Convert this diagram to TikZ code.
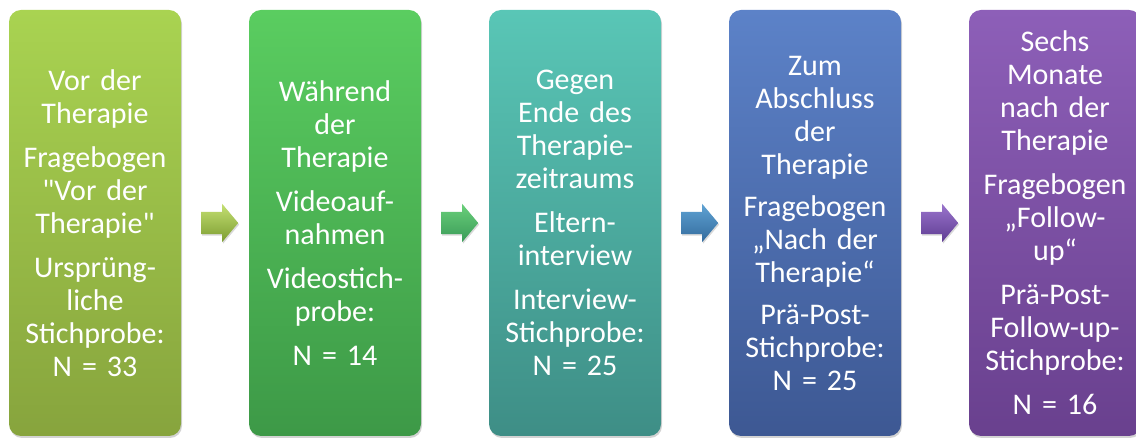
\documentclass[tikz,border=0pt]{standalone}
\usepackage{fontspec}
\setmainfont{Carlito}
\usetikzlibrary{shapes.arrows,shadows,calc}
\AtBeginDocument{\spaceskip=4pt\relax}
\definecolor{cAt}{HTML}{A9D351}
\definecolor{cAb}{HTML}{87A43D}
\definecolor{cBt}{HTML}{5ACD60}
\definecolor{cBb}{HTML}{3D9947}
\definecolor{cCt}{HTML}{59C6B6}
\definecolor{cCb}{HTML}{3E8E86}
\definecolor{cDt}{HTML}{5C82C8}
\definecolor{cDb}{HTML}{3D5893}
\definecolor{cEt}{HTML}{8D5FB8}
\definecolor{cEb}{HTML}{69408E}
\definecolor{aAt}{HTML}{C4E072}
\definecolor{aAb}{HTML}{7C9C31}
\definecolor{aBt}{HTML}{6AD07A}
\definecolor{aBb}{HTML}{3A9A58}
\definecolor{aCt}{HTML}{5FA3D4}
\definecolor{aCb}{HTML}{336A9C}
\definecolor{aDt}{HTML}{9A74CC}
\definecolor{aDb}{HTML}{5E3C92}
\begin{document}
\begin{tikzpicture}[x=1pt,y=1pt,
  stage/.style={rounded corners=12pt, minimum width=172pt, minimum height=426pt,
    inner sep=0pt, text width=172pt, align=center, text=white,
    font=\fontsize{30}{33}\selectfont,
    drop shadow={shadow xshift=1pt, shadow yshift=-2pt, opacity=0.35}},
  flowarrow/.style={single arrow, minimum height=37pt, inner xsep=0pt, inner ysep=11pt,
    single arrow head extend=8pt, single arrow tip angle=100,
    drop shadow={shadow xshift=1pt, shadow yshift=-1.5pt, opacity=0.3}}
]
\useasboundingbox (0,0) rectangle (1136,439);
\node[stage, top color=cAt, bottom color=cAb] (b1) at (95,216)
  {Vor der\\Therapie\\[11pt]Fragebogen\\\textquotedbl Vor der\\Therapie\textquotedbl\\[11pt]Ursprüng-\\liche\\Stichprobe:\\N = 33};
\node[stage, top color=cBt, bottom color=cBb] (b2) at (335,216)
  {Während\\der\\Therapie\\[11pt]Videoauf-\\nahmen\\[11pt]Videostich-\\probe:\\[11pt]N = 14};
\node[stage, top color=cCt, bottom color=cCb] (b3) at (575,216)
  {Gegen\\Ende des\\Therapie-\\zeitraums\\[11pt]Eltern-\\interview\\[11pt]Interview-\\Stichprobe:\\N = 25};
\node[stage, top color=cDt, bottom color=cDb] (b4) at (815,216)
  {Zum\\Abschluss\\der\\Therapie\\[9pt]Fragebogen\\„Nach der\\Therapie“\\[9pt]Prä-Post-\\Stichprobe:\\N = 25};
\node[stage, top color=cEt, bottom color=cEb] (b5) at (1055,216)
  {Sechs\\Monate\\nach der\\Therapie\\[11pt]Fragebogen\\„Follow-\\up“\\[11pt]Prä-Post-\\Follow-up-\\Stichprobe:\\[11pt]N = 16};
\node[flowarrow, top color=aAt, bottom color=aAb] (a1) at ($(b1.east)!0.5!(b2.west)$) {};
\node[flowarrow, top color=aBt, bottom color=aBb] (a2) at ($(b2.east)!0.5!(b3.west)$) {};
\node[flowarrow, top color=aCt, bottom color=aCb] (a3) at ($(b3.east)!0.5!(b4.west)$) {};
\node[flowarrow, top color=aDt, bottom color=aDb] (a4) at ($(b4.east)!0.5!(b5.west)$) {};
\end{tikzpicture}
\end{document}
